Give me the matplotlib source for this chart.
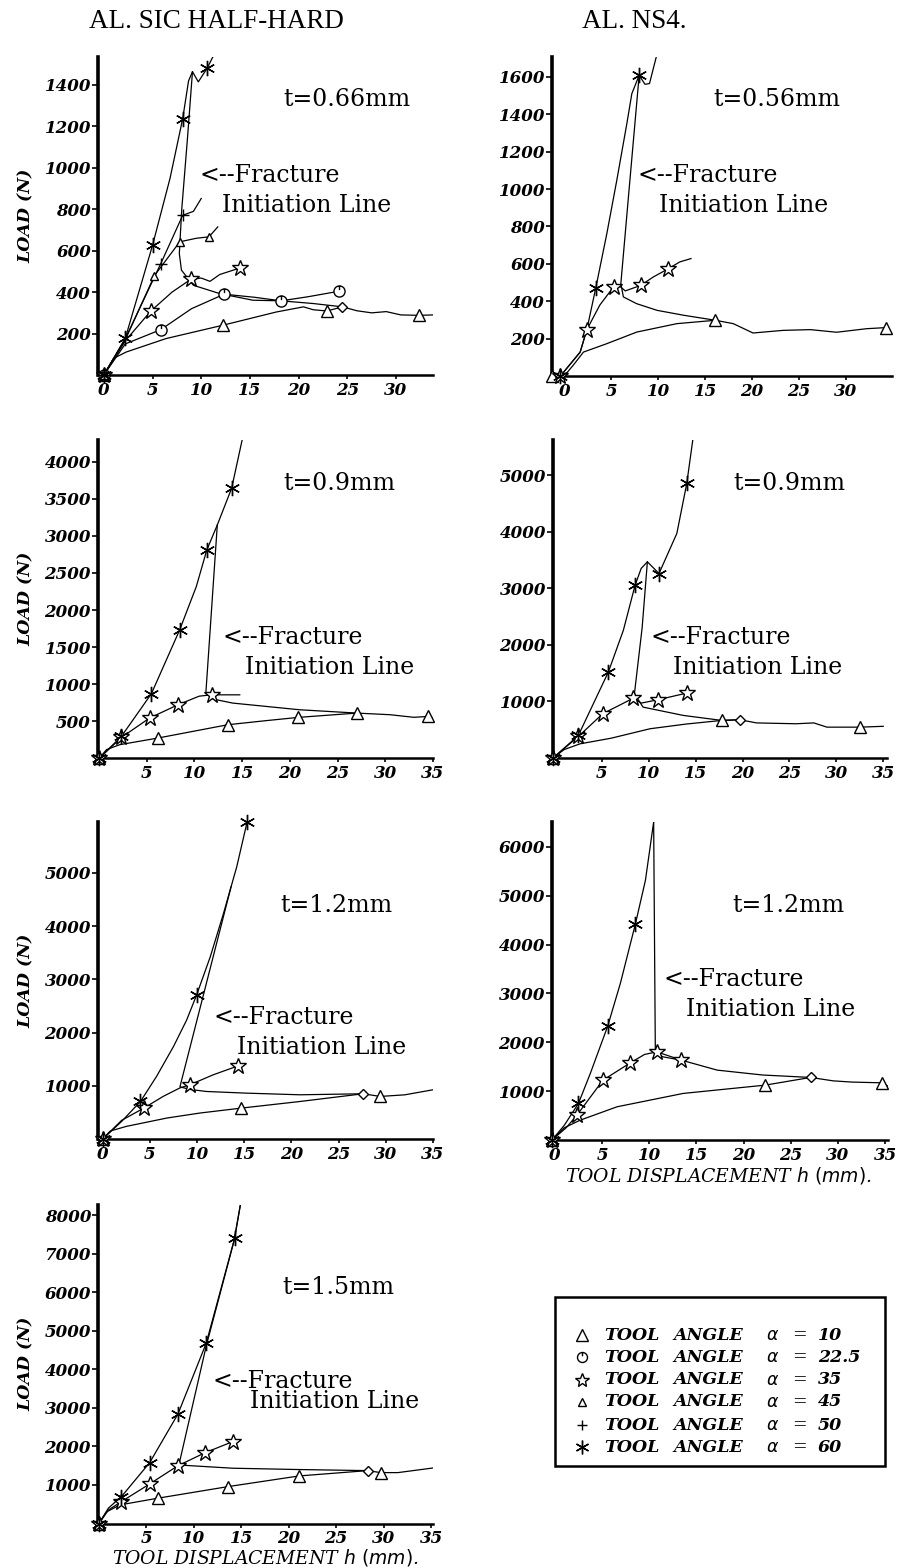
import matplotlib
matplotlib.use("Agg")
import matplotlib.pyplot as plt
from matplotlib.path import Path
from matplotlib.lines import Line2D
from matplotlib.patches import Rectangle

# ---------------- DATA ----------------
HEADERS = ["AL. SIC HALF-HARD", "AL. NS4."]
THICKNESS = ["t=0.66mm", "t=0.56mm", "t=0.9mm", "t=0.9mm", "t=1.2mm", "t=1.2mm", "t=1.5mm"]
LEGEND_ANGLES = ["10", "22.5", "35", "45", "50", "60"]

# Panel 1: AL. SIC HALF-HARD, t=0.66mm
P1_A60_X = [0, 2.2, 5.0, 6.8, 8.1, 8.7, 9.1, 9.7, 10.6, 11.2]
P1_A60_Y = [0, 177, 626, 950, 1238, 1420, 1464, 1415, 1480, 1536]
P1_A60_M = [0, 1, 2, 4, 8]
P1_A50_X = [0, 2.2, 5.85, 8.1, 9.2, 10.0]
P1_A50_Y = [0, 175, 538, 771, 790, 852]
P1_A50_M = [0, 2, 3]
P1_A45_X = [0, 2.2, 5.2, 7.8, 9.5, 10.8, 11.7]
P1_A45_Y = [0, 170, 480, 643, 660, 667, 715]
P1_A45_M = [0, 2, 3, 5]
P1_A35_X = [0, 2.2, 4.83, 7.0, 8.9, 10.0, 10.9, 11.9, 14.0]
P1_A35_Y = [0, 165, 309, 400, 461, 468, 452, 485, 517]
P1_A35_M = [0, 2, 4, 8]
P1_A22_X = [0, 2.2, 5.85, 9.0, 12.35, 15.5, 18.2, 21.0, 24.1]
P1_A22_Y = [0, 150, 219, 320, 390, 375, 358, 378, 404]
P1_A22_M = [0, 2, 4, 6, 8]
P1_A10_X = [0, 1.0, 2.3, 6.4, 12.2, 17.7, 20.5, 21.5, 22.9, 24.5, 26.0, 27.5, 29.0, 30.5, 32.4, 33.8]
P1_A10_Y = [0, 80, 111, 176, 240, 304, 329, 315, 309, 329, 310, 300, 306, 290, 288, 290]
P1_A10_M = [0, 4, 8, 14]
P1_FR_X = [9.1, 8.6, 8.0, 7.75, 7.97, 9.2, 11.9, 15.3, 18.2, 21.5, 24.5]
P1_FR_Y = [1464, 1150, 800, 586, 506, 433, 393, 361, 358, 345, 329]

# Panel 2: AL. NS4., t=0.56mm
P2_A60_X = [-0.4, 1.7, 2.41, 3.37, 4.54, 5.6, 6.67, 7.2, 7.98, 8.6, 9.08, 9.8]
P2_A60_Y = [0, 128, 248, 473, 762, 1047, 1350, 1510, 1608, 1560, 1564, 1706]
P2_A60_M = [0, 3, 8]
P2_A35_X = [-0.4, 1.7, 2.41, 3.8, 5.25, 5.8, 6.5, 8.16, 9.5, 11.1, 12.3, 13.5]
P2_A35_Y = [0, 128, 248, 380, 476, 485, 455, 485, 530, 574, 610, 628]
P2_A35_M = [0, 2, 4, 7, 9]
P2_A10_X = [-1.3, 0, 1.0, 2.05, 4.54, 7.73, 12.0, 16.1, 18.0, 20.1, 23.3, 26.2, 29.0, 32.2, 34.3]
P2_A10_Y = [0, 0, 60, 128, 173, 235, 280, 298, 280, 230, 244, 248, 234, 253, 259]
P2_A10_M = [0, 7, 14]
P2_FR_X = [7.98, 7.0, 6.03, 6.3, 7.7, 9.9, 12.7, 16.1]
P2_FR_Y = [1608, 1050, 494, 423, 387, 351, 325, 298]

# Panel 3: AL. SIC HALF-HARD, t=0.9mm
P3_A60_X = [0, 2.35, 5.49, 8.46, 10.2, 11.3, 12.4, 13.9, 15.0]
P3_A60_Y = [0, 298, 872, 1734, 2317, 2810, 3147, 3641, 4291]
P3_A60_M = [0, 1, 2, 3, 5, 7]
P3_A35_X = [0, 2.35, 5.3, 8.28, 10.5, 11.8, 14.75]
P3_A35_Y = [0, 283, 545, 724, 840, 858, 858]
P3_A35_M = [0, 1, 2, 3, 5]
P3_A10_X = [0, 0.8, 2.17, 6.19, 13.5, 17.5, 20.9, 27.0, 30.5, 33.0, 34.5, 35.0]
P3_A10_Y = [0, 120, 186, 276, 455, 510, 554, 612, 590, 555, 567, 540]
P3_A10_M = [0, 3, 4, 6, 7, 10]
P3_FR_X = [12.4, 11.2, 12.0, 14.0, 21.0, 27.0]
P3_FR_Y = [3147, 881, 800, 747, 657, 612]

# Panel 4: AL. NS4., t=0.9mm
P4_A60_X = [-0.2, 2.5, 5.7, 7.3, 8.55, 9.2, 9.86, 11.1, 13.0, 14.06, 14.7]
P4_A60_Y = [0, 398, 1519, 2257, 3053, 3350, 3466, 3260, 3968, 4853, 5620]
P4_A60_M = [0, 1, 2, 4, 7, 9]
P4_A35_X = [-0.2, 2.5, 5.1, 8.37, 9.2, 11.0, 14.06]
P4_A35_Y = [0, 380, 782, 1058, 970, 1030, 1147]
P4_A35_M = [0, 1, 2, 3, 5, 6]
P4_A10_X = [-0.2, 1.0, 2.7, 6.0, 10.15, 14.0, 17.8, 19.7, 21.5, 25.7, 27.6, 29.0, 32.5, 35.0]
P4_A10_Y = [0, 150, 251, 350, 517, 600, 664, 676, 620, 605, 620, 545, 545, 560]
P4_A10_M = [0, 6, 12]
P4_FR_X = [9.86, 9.3, 8.48, 9.4, 13.7, 17.8, 19.7]
P4_FR_Y = [3466, 2300, 1136, 899, 752, 664, 676]

# Panel 5: AL. SIC HALF-HARD, t=1.2mm
P5_A60_X = [0, 2.0, 4.0, 5.7, 7.5, 8.9, 9.95, 11.4, 12.8, 14.2, 15.3]
P5_A60_Y = [0, 330, 705, 1175, 1738, 2238, 2707, 3426, 4240, 5114, 5958]
P5_A60_M = [0, 2, 6, 10]
P5_A35_X = [0, 2.0, 4.36, 6.4, 8.18, 9.24, 11.7, 14.35]
P5_A35_Y = [0, 350, 581, 800, 960, 1019, 1206, 1375]
P5_A35_M = [0, 2, 5, 7]
P5_A10_X = [0, 0.8, 2.5, 6.8, 10.3, 14.7, 20.9, 27.6, 29.4, 32.0, 35.0]
P5_A10_Y = [0, 150, 237, 394, 488, 581, 705, 850, 800, 830, 925]
P5_A10_M = [0, 5, 8]
P5_FR_X = [13.6, 8.18, 9.3, 11.0, 15.2, 20.9, 27.6]
P5_FR_Y = [4740, 980, 930, 893, 862, 831, 850]

# Panel 6: AL. NS4., t=1.2mm
P6_A60_X = [-0.3, 1.0, 2.5, 3.76, 5.6, 6.94, 8.53, 9.6, 10.47]
P6_A60_Y = [0, 300, 748, 1362, 2329, 3203, 4415, 5315, 6507]
P6_A60_M = [0, 2, 4, 6]
P6_A35_X = [-0.3, 1.2, 2.35, 5.1, 8.0, 9.5, 10.8, 13.4]
P6_A35_Y = [0, 250, 510, 1225, 1579, 1750, 1804, 1634]
P6_A35_M = [0, 2, 3, 4, 6, 7]
P6_A10_X = [-0.3, 1.0, 2.7, 6.6, 13.6, 22.3, 27.1, 29.5, 31.5, 34.7, 35.3]
P6_A10_Y = [0, 250, 407, 680, 953, 1123, 1280, 1210, 1185, 1170, 1100]
P6_A10_M = [0, 5, 9]
P6_FR_X = [10.47, 10.65, 11.5, 13.4, 17.2, 22.0, 27.1]
P6_FR_Y = [6507, 1771, 1700, 1634, 1430, 1330, 1280]

# Panel 7: AL. SIC HALF-HARD, t=1.5mm
P7_A60_X = [0, 1.0, 2.37, 5.35, 8.33, 11.3, 14.3, 14.9]
P7_A60_Y = [0, 400, 698, 1580, 2842, 4675, 7398, 8262]
P7_A60_M = [0, 2, 3, 4, 5, 6]
P7_A35_X = [0, 1.0, 2.37, 5.35, 8.33, 11.2, 14.1]
P7_A35_Y = [0, 350, 568, 1027, 1500, 1838, 2124]
P7_A35_M = [0, 2, 3, 4, 5, 6]
P7_A10_X = [0, 0.8, 2.2, 6.2, 13.6, 21.1, 28.3, 29.7, 31.5, 35.2]
P7_A10_Y = [0, 300, 482, 656, 957, 1234, 1372, 1320, 1320, 1440]
P7_A10_M = [0, 3, 4, 5, 7]
P7_FR_X = [14.9, 14.2, 11.3, 8.5, 8.33, 14.1, 21.0, 28.3]
P7_FR_Y = [8262, 7300, 4600, 1600, 1519, 1434, 1400, 1372]

# tick values
P1_XT = [0, 5, 10, 15, 20, 25, 30]; P1_YT = [200, 400, 600, 800, 1000, 1200, 1400]
P2_XT = [0, 5, 10, 15, 20, 25, 30]; P2_YT = [200, 400, 600, 800, 1000, 1200, 1400, 1600]
P3_XT = [5, 10, 15, 20, 25, 30, 35]; P3_YT = [500, 1000, 1500, 2000, 2500, 3000, 3500, 4000]
P4_XT = [5, 10, 15, 20, 25, 30, 35]; P4_YT = [1000, 2000, 3000, 4000, 5000]
P5_XT = [0, 5, 10, 15, 20, 25, 30, 35]; P5_YT = [1000, 2000, 3000, 4000, 5000]
P6_XT = [0, 5, 10, 15, 20, 25, 30, 35]; P6_YT = [1000, 2000, 3000, 4000, 5000, 6000]
P7_XT = [5, 10, 15, 20, 25, 30, 35]; P7_YT = [1000, 2000, 3000, 4000, 5000, 6000, 7000, 8000]

# ---------------- STYLE ----------------
W, H = 897, 1568
fig = plt.figure(figsize=(W / 100, H / 100), dpi=100)
fig.patch.set_facecolor("white")

circ = Path.unit_circle()
tick = Path([(0, 1.0), (0, 0.25)], [Path.MOVETO, Path.LINETO])
CIRC_TICK = Path.make_compound_path(circ, tick)

MK = {
    10: dict(marker="^", ms=9),
    22: dict(marker=CIRC_TICK, ms=8),
    35: dict(marker="*", ms=12),
    45: dict(marker="^", ms=5.5),
    50: dict(marker="+", ms=8),
    60: dict(marker=(6, 2, 0), ms=11),
}

TICKFONT = dict(family="DejaVu Serif", style="italic", weight="bold", size=12)
ANNFONT = dict(family="DejaVu Serif", size=17)


def px_axes(x0, x1, y0, y1):
    return fig.add_axes([x0 / W, 1 - y1 / H, (x1 - x0) / W, (y1 - y0) / H])


def series(ax, x, y, key, idx):
    m = MK[key]
    ax.plot(x, y, color="k", lw=0.9, zorder=2)
    ax.plot([x[i] for i in idx], [y[i] for i in idx], ls="none", marker=m["marker"],
            ms=m["ms"], mfc="white", mec="k", mew=1.0, zorder=3, clip_on=False)


def fracture(ax, x, y, diamond=True):
    ax.plot(x, y, color="k", lw=0.9, zorder=2)
    if diamond:
        ax.plot([x[-1]], [y[-1]], ls="none", marker="D", ms=5, mfc="white",
                mec="k", mew=1.0, zorder=3)


def style_ax(ax, xlim, ylim, xt, yt, ylabel=True):
    ax.set_xlim(*xlim)
    ax.set_ylim(*ylim)
    for s in ["top", "right"]:
        ax.spines[s].set_visible(False)
    ax.spines["left"].set_linewidth(2.6)
    ax.spines["bottom"].set_linewidth(1.8)
    ax.set_xticks(xt)
    ax.set_yticks(yt)
    ax.set_xticklabels([str(v) for v in xt], fontdict=TICKFONT)
    ax.set_yticklabels([str(v) for v in yt], fontdict=TICKFONT)
    ax.tick_params(axis="both", direction="out", length=4, width=1.2, pad=1)
    ax.tick_params(axis="x", length=3, pad=2)
    ax.patch.set_alpha(0)
    if ylabel:
        ax.set_ylabel("LOAD (N)", family="DejaVu Serif", style="italic",
                      weight="bold", size=12.5)
        bb = ax.get_position()
        ax.yaxis.set_label_coords(35 / W, (bb.y0 + bb.y1) / 2, transform=fig.transFigure)


def ftext(x, y, s, **kw):
    fig.text(x / W, 1 - y / H, s, **kw)


# ---------------- PANELS ----------------
ax1 = px_axes(98, 433, 57, 375)
series(ax1, P1_A10_X, P1_A10_Y, 10, P1_A10_M)
series(ax1, P1_A22_X, P1_A22_Y, 22, P1_A22_M)
series(ax1, P1_A35_X, P1_A35_Y, 35, P1_A35_M)
series(ax1, P1_A45_X, P1_A45_Y, 45, P1_A45_M)
series(ax1, P1_A50_X, P1_A50_Y, 50, P1_A50_M)
series(ax1, P1_A60_X, P1_A60_Y, 60, P1_A60_M)
fracture(ax1, P1_FR_X, P1_FR_Y)
style_ax(ax1, (-0.6, 33.8), (0, 1535), P1_XT, P1_YT)

ax2 = px_axes(552, 892, 57, 376)
series(ax2, P2_A10_X, P2_A10_Y, 10, P2_A10_M)
series(ax2, P2_A35_X, P2_A35_Y, 35, P2_A35_M)
series(ax2, P2_A60_X, P2_A60_Y, 60, P2_A60_M)
fracture(ax2, P2_FR_X, P2_FR_Y, diamond=False)
style_ax(ax2, (-1.3, 34.9), (0, 1706), P2_XT, P2_YT, ylabel=False)

ax3 = px_axes(98, 433, 440, 758.5)
series(ax3, P3_A10_X, P3_A10_Y, 10, P3_A10_M)
series(ax3, P3_A35_X, P3_A35_Y, 35, P3_A35_M)
series(ax3, P3_A60_X, P3_A60_Y, 60, P3_A60_M)
fracture(ax3, P3_FR_X, P3_FR_Y, diamond=False)
style_ax(ax3, (-0.1, 35), (0, 4292), P3_XT, P3_YT)

ax4 = px_axes(553, 887, 440, 758)
series(ax4, P4_A10_X, P4_A10_Y, 10, P4_A10_M)
series(ax4, P4_A35_X, P4_A35_Y, 35, P4_A35_M)
series(ax4, P4_A60_X, P4_A60_Y, 60, P4_A60_M)
fracture(ax4, P4_FR_X, P4_FR_Y)
style_ax(ax4, (-0.2, 35.4), (0, 5619), P4_XT, P4_YT, ylabel=False)

ax5 = px_axes(98, 433, 822, 1139)
series(ax5, P5_A10_X, P5_A10_Y, 10, P5_A10_M)
series(ax5, P5_A35_X, P5_A35_Y, 35, P5_A35_M)
series(ax5, P5_A60_X, P5_A60_Y, 60, P5_A60_M)
fracture(ax5, P5_FR_X, P5_FR_Y)
style_ax(ax5, (-0.5, 35), (0, 5958), P5_XT, P5_YT)

ax6 = px_axes(552, 888, 822, 1140)
series(ax6, P6_A10_X, P6_A10_Y, 10, P6_A10_M)
series(ax6, P6_A35_X, P6_A35_Y, 35, P6_A35_M)
series(ax6, P6_A60_X, P6_A60_Y, 60, P6_A60_M)
fracture(ax6, P6_FR_X, P6_FR_Y)
style_ax(ax6, (-0.3, 35.3), (0, 6507), P6_XT, P6_YT, ylabel=False)

ax7 = px_axes(98, 433, 1205, 1523.5)
series(ax7, P7_A10_X, P7_A10_Y, 10, P7_A10_M)
series(ax7, P7_A35_X, P7_A35_Y, 35, P7_A35_M)
series(ax7, P7_A60_X, P7_A60_Y, 60, P7_A60_M)
fracture(ax7, P7_FR_X, P7_FR_Y)
style_ax(ax7, (-0.1, 35.2), (0, 8262), P7_XT, P7_YT)

XLABEL = r"TOOL DISPLACEMENT $h$ $(mm)$."
ftext(718, 1176, XLABEL, family="DejaVu Serif", style="italic", size=13.5,
      ha="center", va="center")
ftext(265, 1558, XLABEL, family="DejaVu Serif", style="italic", size=13.5,
      ha="center", va="center")

# ---------------- TEXT ----------------
ftext(216, 22, HEADERS[0], family="Liberation Serif", size=19.5, ha="center", va="center")
ftext(634, 22, HEADERS[1], family="Liberation Serif", size=19.5, ha="center", va="center")

T_POS = [(283, 100), (713, 100), (283, 483), (733, 483), (280, 905), (732, 905), (282, 1287)]
FR_POS = [(199, 176, 222, 206), (637, 176, 659, 206), (222, 637, 245, 667),
          (650, 637, 673, 667), (213, 1018, 237, 1048), (663, 980, 686, 1010),
          (212, 1382, 250, 1402)]
for (tx, ty), s in zip(T_POS, THICKNESS):
    ftext(tx, ty, s, ha="left", va="center", **ANNFONT)
for fx, fy, ix, iy in FR_POS:
    ftext(fx, fy, "<--Fracture", ha="left", va="center", **ANNFONT)
    ftext(ix, iy, "Initiation Line", ha="left", va="center", **ANNFONT)

# ---------------- LEGEND ----------------
box_top, box_bot = 1297, 1466
fig.add_artist(Rectangle((555 / W, 1 - box_bot / H), 330 / W, (box_bot - box_top) / H,
                         transform=fig.transFigure, fill=False, ec="k", lw=1.8))
row_y = [1335, 1357, 1380, 1402, 1425, 1447]
keys = [10, 22, 35, 45, 50, 60]
LFONT = dict(family="DejaVu Serif", style="italic", weight="bold", size=12.5)
for ry, k, ang in zip(row_y, keys, LEGEND_ANGLES):
    m = MK[k]
    ms = m["ms"] * (0.9 if k != 45 else 1.0)
    fig.add_artist(Line2D([582 / W], [1 - ry / H], transform=fig.transFigure,
                          marker=m["marker"], ms=ms, mfc="white", mec="k", mew=1.0, ls="none"))
    ftext(604, ry, "TOOL", ha="left", va="center", **LFONT)
    ftext(673, ry, "ANGLE", ha="left", va="center", **LFONT)
    ftext(766, ry, r"$\alpha$", ha="left", va="center", size=12.5)
    ftext(792, ry, "=", ha="left", va="center", size=12.5, family="DejaVu Serif")
    ftext(818, ry, ang, ha="left", va="center", **LFONT)

fig.savefig("out.png", dpi=100, facecolor="white")
